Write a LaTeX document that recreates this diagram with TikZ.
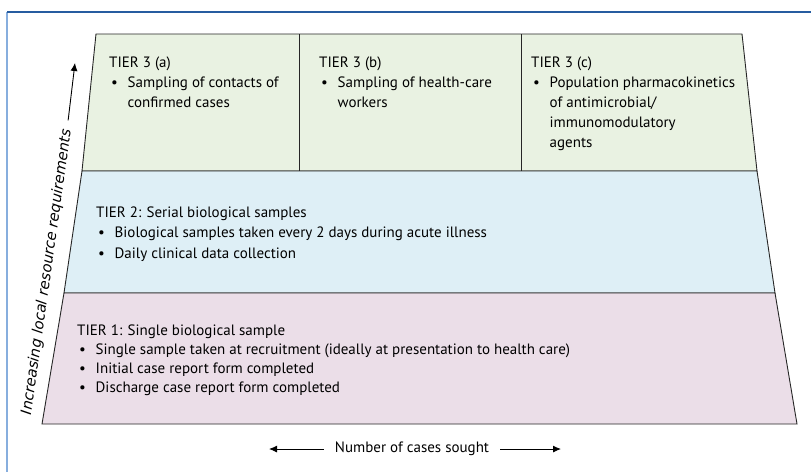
\documentclass[tikz,border=0pt]{standalone}
\usepackage{fontspec}
\setmainfont{PT Sans}
\newfontfamily\sidefont{DejaVu Sans}
\usetikzlibrary{arrows.meta}
\definecolor{tierthree}{RGB}{233,242,226}
\definecolor{tiertwo}{RGB}{222,239,246}
\definecolor{tierone}{RGB}{235,222,232}
\definecolor{framedark}{RGB}{38,92,160}
\definecolor{framelight}{RGB}{135,174,222}
\tikzset{arrow/.style={-{Latex[length=8pt,width=7pt]}, line width=0.9pt}}
\tikzset{tier/.style={draw=black!85, line width=0.9pt}}
% multi-line nodes: base is the baseline of the last line
\tikzset{tiertext/.style={anchor=base west, inner sep=0pt, align=left}}
\newcommand{\bul}{\hspace*{2pt}\makebox[16.5pt][l]{\textbullet}}
\newcommand{\hang}{\hspace*{18.5pt}}

\begin{document}
\begin{tikzpicture}[x=1pt,y=-1pt,font=\fontsize{15}{20.2}\selectfont]
        \useasboundingbox (0,0) rectangle (811,472);

        % frame
        \draw[framelight, line width=1.6pt] (7,12) -- (7,472);
        \draw[framedark, line width=1.2pt] (7,12) -- (811,12);

        % tiers
        \draw[tier, fill=tierthree] (96,34) -- (742,34) -- (757,171) -- (82,171) -- cycle;
        \draw[tier, fill=tiertwo] (82,171) -- (757,171) -- (775,293) -- (64,293) -- cycle;
        \draw[tier, fill=tierone] (64,293) -- (775,293) -- (797,424) -- (42,424) -- cycle;
        \draw[tier] (299,34) -- (299,171);
        \draw[tier] (521,34) -- (521,171);

        \node[tiertext] (t3a) at (109,107.4) {TIER 3 (a)\\
            \bul Sampling of contacts of\\
            \hang confirmed cases};
        \node[tiertext] (t3b) at (319,107.4) {TIER 3 (b)\\
            \bul Sampling of health-care\\
            \hang workers};
        \node[tiertext] (t3c) at (531,147.8) {TIER 3 (c)\\
            \bul Population pharmacokinetics\\
            \hang of antimicrobial/\\
            \hang immunomodulatory\\
            \hang agents};
        \node[tiertext, font=\fontsize{15}{20.5}\selectfont] (t2) at (96,258) {TIER 2: Serial biological samples\\
            \bul Biological samples taken every 2 days during acute illness\\
            \bul Daily clinical data collection};
        \node[tiertext, font=\fontsize{15}{19.2}\selectfont] (t1) at (77,392.6) {TIER 1: Single biological sample\\
            \bul Single sample taken at recruitment (ideally at presentation to health care)\\
            \bul Initial case report form completed\\
            \bul Discharge case report form completed};

        % axes
        \node[rotate=82, inner sep=0pt, font=\sidefont\itshape\fontsize{14.7}{17}\selectfont]
            (incr) at (47,272) {Increasing local resource requirements};
        \coordinate (uptip) at (75,63);
        \draw[arrow, shorten <=9pt] (incr.east) -- (uptip);

        \node[inner xsep=11pt, inner ysep=0pt] (cases) at (412,449) {Number of cases sought};
        \coordinate (casesleft) at (269,449);
        \coordinate (casesright) at (561,449);
        \draw[arrow] (cases.west) -- (casesleft);
        \draw[arrow] (cases.east) -- (casesright);
\end{tikzpicture}
\end{document}
